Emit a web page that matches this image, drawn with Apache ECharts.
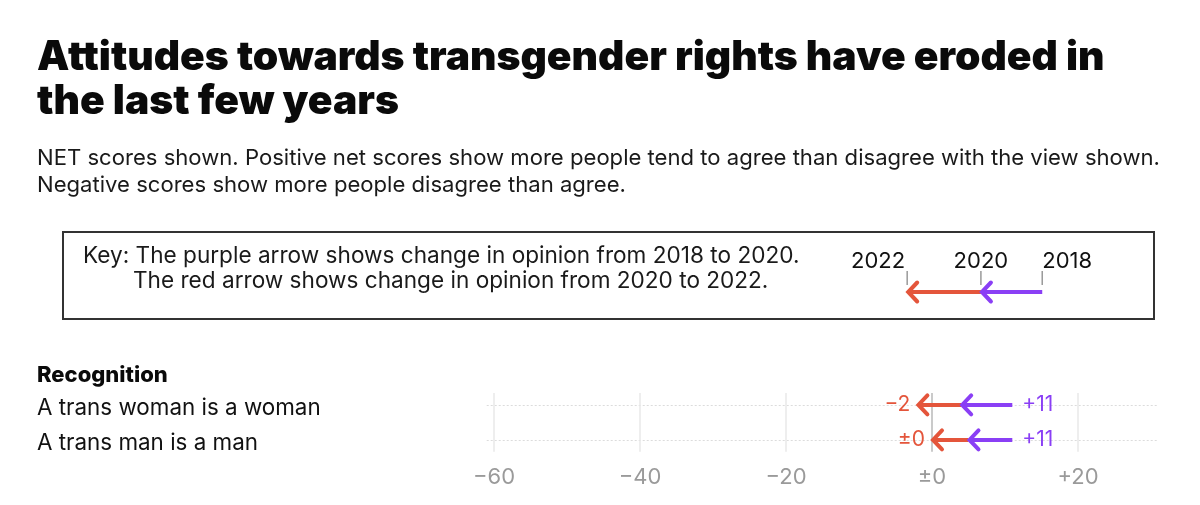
<!DOCTYPE html>
<html>
<head>
<meta charset="utf-8">
<script src="https://cdn.jsdelivr.net/npm/echarts@6/dist/echarts.min.js"></script>
<style>
html,body{margin:0;padding:0;background:#fff;}
#chart{width:1200px;height:505px;}
</style>
</head>
<body>
<div id="chart"></div>
<script>
// ---- data ----
var rowLabels = ['A trans woman is a woman', 'A trans man is a man'];
var net2018 = [11, 11];
var net2020 = [4, 5];
var net2022 = [-2, 0];
var tickValues = [-60, -40, -20, 0, 20];
var keyYears = ['2018', '2020', '2022'];
var keyValues = [15.1, 6.7, -3.4];

var titleText = 'Attitudes towards transgender rights have eroded in\nthe last few years';
var subText = 'NET scores shown. Positive net scores show more people tend to agree than disagree with the view shown.\nNegative scores show more people disagree than agree.';
var keyLine1 = 'Key: The purple arrow shows change in opinion from 2018 to 2020.';
var keyLine2 = 'The red arrow shows change in opinion from 2020 to 2022.';
var groupLabel = 'Recognition';

var PURPLE = '#8a3ff5';
var RED = '#e4553b';
var FONT = 'Inter, "Noto Sans", sans-serif';

function fmt(v) {
  if (v > 0) return '+' + v;
  if (v < 0) return '\u2212' + Math.abs(v);
  return '\u00b10';
}

var rows = rowLabels.map(function (_, i) { return [i, net2018[i], net2020[i], net2022[i]]; });

function chevron(x, y, color) {
  return {
    type: 'polyline',
    shape: { points: [[x + 10, y - 9.5], [x + 1, y], [x + 10, y + 9.5]] },
    style: { stroke: color, lineWidth: 4, fill: null, lineJoin: 'miter', lineCap: 'round' }
  };
}
function seg(x1, x2, y, color) {
  return {
    type: 'line',
    shape: { x1: x1, y1: y, x2: x2, y2: y },
    style: { stroke: color, lineWidth: 4 }
  };
}

var chart = echarts.init(document.getElementById('chart'), null, { renderer: 'canvas' });
var option = {
  backgroundColor: '#fff',
  animation: false,
  title: [
    {
      text: titleText, left: 37, top: 36, padding: 0,
      textStyle: { fontFamily: FONT, fontSize: 40.8, fontWeight: 900, color: '#0a0a0a', lineHeight: 44 }
    },
    {
      text: subText, left: 37, top: 145, padding: 0,
      textStyle: { fontFamily: FONT, fontSize: 22.1, fontWeight: 400, color: '#1a1a1a', lineHeight: 27 }
    }
  ],
  graphic: [
    { type: 'rect', shape: { x: 63, y: 232, width: 1091, height: 87 }, style: { fill: null, stroke: '#333', lineWidth: 2 } },
    { type: 'text', x: 83, y: 256, style: { text: keyLine1, font: '400 22.6px ' + FONT, fill: '#1a1a1a', textVerticalAlign: 'middle' } },
    { type: 'text', x: 133, y: 281, style: { text: keyLine2, font: '400 22.6px ' + FONT, fill: '#1a1a1a', textVerticalAlign: 'middle' } },
    { type: 'text', x: 37, y: 375, style: { text: groupLabel, font: '800 22px ' + FONT, fill: '#0a0a0a', textVerticalAlign: 'middle' } }
  ],
  grid: [
    { left: 486.7, right: 41.7, top: 393, height: 58.8 },
    { left: 486.7, right: 41.7, top: 282, height: 20 }
  ],
  xAxis: [
    {
      gridIndex: 0, type: 'value', min: -61, max: 31,
      axisLine: { show: false },
      axisTick: { show: false, customValues: tickValues },
      axisLabel: {
        customValues: tickValues, formatter: fmt, color: '#9a9a9a',
        fontFamily: FONT, fontSize: 22, margin: 15
      },
      splitLine: {
        show: true,
        lineStyle: { color: ['#e8e8e8', '#e8e8e8', '#e8e8e8', '#b8b8b8', '#e8e8e8'], width: 1.5 }
      }
    },
    { gridIndex: 1, type: 'value', min: -61, max: 31, show: false }
  ],
  yAxis: [
    {
      gridIndex: 0, type: 'value', inverse: true, min: -0.34, max: 1.34,
      axisLine: { show: false },
      axisTick: { show: false, customValues: [0, 1] },
      axisLabel: {
        customValues: [0.11, 1.11],
        formatter: function (v) { return rowLabels[Math.round(v)] || ''; },
        align: 'left', margin: 449.7, color: '#111', fontFamily: FONT, fontSize: 22.4
      },
      splitLine: { show: true, lineStyle: { color: '#dcdcdc', type: [2, 2], width: 1 } }
    },
    { gridIndex: 1, type: 'value', min: -1, max: 1, show: false }
  ],
  series: [
    {
      type: 'custom',
      xAxisIndex: 0, yAxisIndex: 0,
      data: rows,
      renderItem: function (params, api) {
        var r = api.value(0);
        var p18 = api.coord([api.value(1), r]);
        var p20 = api.coord([api.value(2), r]);
        var p22 = api.coord([api.value(3), r]);
        var y = p18[1];
        return {
          type: 'group',
          children: [
            seg(p20[0], p22[0] + 2, y, RED),
            chevron(p22[0], y, RED),
            seg(p18[0], p20[0] + 2, y, PURPLE),
            chevron(p20[0], y, PURPLE),
            { type: 'text', x: p18[0] + 10, y: y, style: { text: fmt(api.value(1)), fill: PURPLE, font: '400 21px ' + FONT, textAlign: 'left', textVerticalAlign: 'middle' } },
            { type: 'text', x: p22[0] - 7, y: y, style: { text: fmt(api.value(3)), fill: RED, font: '400 21px ' + FONT, textAlign: 'right', textVerticalAlign: 'middle' } }
          ]
        };
      }
    },
    {
      type: 'custom',
      xAxisIndex: 1, yAxisIndex: 1,
      data: [[keyValues[0], keyValues[1], keyValues[2]]],
      renderItem: function (params, api) {
        var p18 = api.coord([api.value(0), 0]);
        var p20 = api.coord([api.value(1), 0]);
        var p22 = api.coord([api.value(2), 0]);
        var y = p18[1];
        function tick(x) {
          return { type: 'line', shape: { x1: x, y1: y - 21, x2: x, y2: y - 7 }, style: { stroke: '#999', lineWidth: 1.5 } };
        }
        function lab(x, t, align) {
          return { type: 'text', x: x, y: y - 31, style: { text: t, fill: '#111', font: '400 22px ' + FONT, textAlign: align, textVerticalAlign: 'middle' } };
        }
        return {
          type: 'group',
          children: [
            tick(p18[0]), tick(p20[0]), tick(p22[0]),
            seg(p20[0], p22[0] + 2, y, RED),
            chevron(p22[0], y, RED),
            seg(p18[0], p20[0] + 2, y, PURPLE),
            chevron(p20[0], y, PURPLE),
            lab(p22[0] - 2, keyYears[2], 'right'),
            lab(p20[0], keyYears[1], 'center'),
            lab(p18[0], keyYears[0], 'left')
          ]
        };
      }
    }
  ]
};
chart.setOption(option);
</script>
</body>
</html>
